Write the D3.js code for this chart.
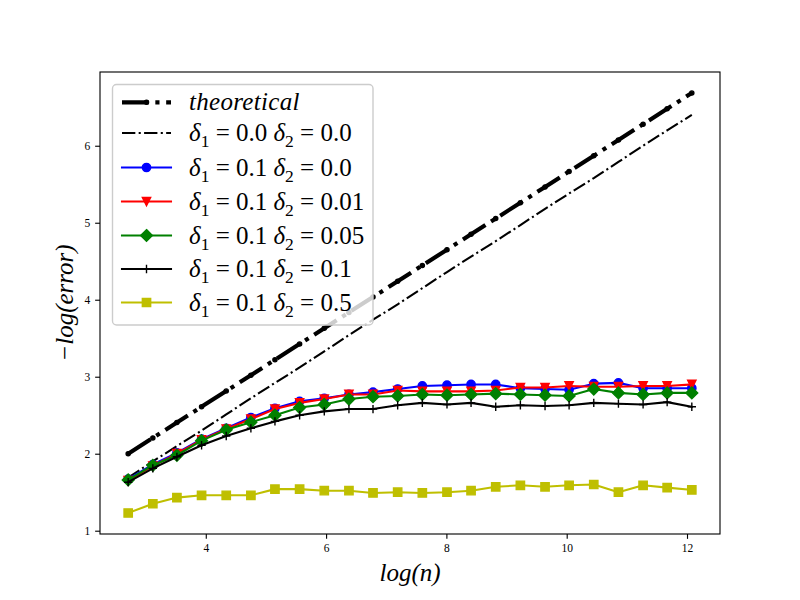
<!DOCTYPE html>
<html>
<head>
<meta charset="utf-8">
<script src="https://cdn.jsdelivr.net/npm/d3@7"></script>
<style>
  html, body { margin: 0; padding: 0; background: #fff; }
  svg { display: block; }
  text { font-family: "Liberation Serif", "DejaVu Serif", serif; }
</style>
</head>
<body>
<svg id="chart" width="800" height="600"></svg>
<script>
// ---------------- data ----------------
const xValues = [2.71, 3.12, 3.52, 3.93, 4.34, 4.75, 5.15, 5.56, 5.97, 6.38, 6.78, 7.19,
                 7.60, 8.01, 8.41, 8.82, 9.23, 9.64, 10.04, 10.45, 10.86, 11.27, 11.67, 12.08];
const theoretical = [2.00, 2.205, 2.405, 2.61, 2.815, 3.02, 3.22, 3.425, 3.63, 3.835, 4.035, 4.24,
                     4.445, 4.65, 4.85, 5.055, 5.26, 5.465, 5.665, 5.87, 6.075, 6.28, 6.48, 6.685];
const d1_00_d2_00 = [1.69, 1.90, 2.10, 2.30, 2.51, 2.72, 2.92, 3.12, 3.33, 3.54, 3.74, 3.94,
                     4.15, 4.36, 4.56, 4.76, 4.97, 5.18, 5.38, 5.58, 5.79, 6.00, 6.20, 6.40];
const d1_01_d2_00 = [1.67, 1.86, 2.01, 2.19, 2.33, 2.47, 2.59, 2.68, 2.72, 2.77, 2.80, 2.84,
                     2.88, 2.89, 2.90, 2.90, 2.85, 2.84, 2.83, 2.91, 2.92, 2.85, 2.85, 2.85];
const d1_01_d2_001 = [1.65, 1.84, 2.00, 2.18, 2.32, 2.45, 2.58, 2.66, 2.71, 2.77, 2.77, 2.82,
                      2.81, 2.81, 2.81, 2.82, 2.86, 2.86, 2.88, 2.87, 2.87, 2.88, 2.88, 2.90];
const d1_01_d2_005 = [1.66, 1.85, 1.98, 2.17, 2.31, 2.41, 2.50, 2.60, 2.64, 2.71, 2.74, 2.75,
                      2.77, 2.76, 2.77, 2.78, 2.77, 2.76, 2.75, 2.84, 2.79, 2.77, 2.79, 2.79];
const d1_01_d2_01 = [1.63, 1.81, 1.96, 2.11, 2.23, 2.33, 2.42, 2.50, 2.55, 2.58, 2.58, 2.63,
                     2.66, 2.64, 2.66, 2.61, 2.63, 2.62, 2.63, 2.66, 2.65, 2.64, 2.67, 2.61];
const d1_01_d2_05 = [1.23, 1.35, 1.43, 1.46, 1.46, 1.46, 1.54, 1.54, 1.52, 1.52, 1.49, 1.50,
                     1.49, 1.50, 1.52, 1.57, 1.59, 1.57, 1.59, 1.60, 1.50, 1.59, 1.56, 1.53];
const xTicks = [4, 6, 8, 10, 12];
const yTicks = [1, 2, 3, 4, 5, 6];
const xLabel = "log(n)";
const yLabel = "\u2212log(error)";

// legend labels: [d1, d2] values (theoretical handled separately)
const seriesLabels = [
  null,
  ["0.0", "0.0"],
  ["0.1", "0.0"],
  ["0.1", "0.01"],
  ["0.1", "0.05"],
  ["0.1", "0.1"],
  ["0.1", "0.5"]
];

// ---------------- styles ----------------
const PT = 100 / 72; // px per point at dpi 100
const series = [
  { values: theoretical, color: "#000000", lw: 3, dash: [6.4, 1.6, 1, 1.6], marker: "point" },
  { values: d1_00_d2_00, color: "#000000", lw: 1.5, dash: [6.4, 1.6, 1, 1.6], marker: null },
  { values: d1_01_d2_00, color: "#0000ff", lw: 1.5, dash: null, marker: "circle" },
  { values: d1_01_d2_001, color: "#ff0000", lw: 1.5, dash: null, marker: "tri_down" },
  { values: d1_01_d2_005, color: "#008000", lw: 1.5, dash: null, marker: "diamond" },
  { values: d1_01_d2_01, color: "#000000", lw: 1.5, dash: null, marker: "plus" },
  { values: d1_01_d2_05, color: "#bfbf00", lw: 1.5, dash: null, marker: "square" }
];

const L = 100, R = 720, T = 72, B = 534;

const svg = d3.select("#chart");

const xExt = d3.extent(xValues);
const allY = series.flatMap(s => s.values);
const yExt = d3.extent(allY);
const xm = (xExt[1] - xExt[0]) * 0.05;
const ym = (yExt[1] - yExt[0]) * 0.05;
const x = d3.scaleLinear().domain([xExt[0] - xm, xExt[1] + xm]).range([L, R]);
const y = d3.scaleLinear().domain([yExt[0] - ym, yExt[1] + ym]).range([B, T]);

// marker paths (matplotlib sizing, markersize 6pt)
const MS = 6 * PT;
function markerPath(type) {
  const h = MS / 2;
  switch (type) {
    case "circle": {
      const p = d3.path(); p.arc(0, 0, h, 0, 2 * Math.PI); p.closePath(); return p.toString();
    }
    case "point": {
      const r = h * 0.5; const p = d3.path(); p.arc(0, 0, r, 0, 2 * Math.PI); p.closePath(); return p.toString();
    }
    case "tri_down":
      return `M0,${h}L${-h},${-h}L${h},${-h}Z`;
    case "diamond": {
      const d = MS / Math.SQRT2;
      return `M0,${-d}L${d},0L0,${d}L${-d},0Z`;
    }
    case "square":
      return `M${-h},${-h}L${h},${-h}L${h},${h}L${-h},${h}Z`;
    case "plus":
      return `M${-h},0L${h},0M0,${-h}L0,${h}`;
  }
  return "";
}

function drawMarker(g, type, color, cx, cy) {
  if (!type) return;
  const path = g.append("path")
    .attr("d", markerPath(type))
    .attr("transform", `translate(${cx},${cy})`)
    .attr("stroke", color)
    .attr("stroke-width", 1 * PT)
    .attr("stroke-linejoin", "miter");
  if (type === "plus") path.attr("fill", "none");
  else path.attr("fill", color);
}

// clip
svg.append("defs").append("clipPath").attr("id", "clip")
  .append("rect").attr("x", L).attr("y", T).attr("width", R - L).attr("height", B - T);

const plot = svg.append("g").attr("clip-path", "url(#clip)");

const line = d3.line().x((d, i) => x(xValues[i])).y(d => y(d));

series.forEach(s => {
  const lw = s.lw * PT;
  const p = plot.append("path")
    .datum(s.values)
    .attr("d", line)
    .attr("fill", "none")
    .attr("stroke", s.color)
    .attr("stroke-width", lw)
    .attr("stroke-linejoin", "round");
  if (s.dash) {
    p.attr("stroke-dasharray", s.dash.map(v => v * s.lw * PT).join(","))
     .attr("stroke-linecap", "butt");
  } else {
    p.attr("stroke-linecap", "square");
  }
  const mg = plot.append("g");
  s.values.forEach((v, i) => drawMarker(mg, s.marker, s.color, x(xValues[i]), y(v)));
});

// axes
const tickLen = 3.5 * PT;
const xAxis = d3.axisBottom(x).tickValues(xTicks).tickSize(tickLen).tickPadding(3.5 * PT).tickFormat(d3.format("d"));
const yAxis = d3.axisLeft(y).tickValues(yTicks).tickSize(tickLen).tickPadding(3.5 * PT).tickFormat(d3.format("d"));

const gx = svg.append("g").attr("transform", `translate(0,${B})`).call(xAxis);
const gy = svg.append("g").attr("transform", `translate(${L},0)`).call(yAxis);
[gx, gy].forEach(g => {
  g.select(".domain").remove();
  g.selectAll(".tick line").attr("stroke", "#000").attr("stroke-width", 0.8 * PT);
  g.selectAll(".tick text").attr("fill", "#000")
    .style("font-family", "'Liberation Serif', serif").style("font-size", "11.5px");
});

svg.append("rect").attr("x", L).attr("y", T).attr("width", R - L).attr("height", B - T)
  .attr("fill", "none").attr("stroke", "#000").attr("stroke-width", 0.8 * PT);

// axis labels
svg.append("text").attr("x", (L + R) / 2).attr("y", 581)
  .attr("text-anchor", "middle").style("font-size", "25px").style("font-style", "italic")
  .text(xLabel);
svg.append("text").attr("transform", `translate(73,${(T + B) / 2}) rotate(-90)`)
  .attr("text-anchor", "middle").style("font-size", "25px").style("font-style", "italic")
  .text(yLabel);

// legend
const lg = svg.append("g");
lg.append("rect").attr("x", 112.5).attr("y", 84.5).attr("width", 260.5).attr("height", 240.5)
  .attr("rx", 4).attr("ry", 4)
  .attr("fill", "#fff").attr("fill-opacity", 0.8)
  .attr("stroke", "#cccccc").attr("stroke-width", 1 * PT);

const rowYs = [102.3, 133, 167.5, 201.5, 235.5, 269, 302.5];
const hx0 = 122, hx1 = 171, tx = 189;
const FS = 25;
series.forEach((s, i) => {
  const cy = rowYs[i];
  const ln = lg.append("line").attr("x1", hx0).attr("x2", hx1).attr("y1", cy).attr("y2", cy)
    .attr("stroke", s.color).attr("stroke-width", s.lw * PT);
  if (s.dash) ln.attr("stroke-dasharray", s.dash.map(v => v * s.lw * PT).join(",")).attr("stroke-linecap", "butt");
  else ln.attr("stroke-linecap", "square");
  drawMarker(lg, s.marker, s.color, (hx0 + hx1) / 2, cy);

  const t = lg.append("text").attr("x", tx).attr("y", cy + 8).style("font-size", FS + "px");
  const lab = seriesLabels[i];
  if (!lab) {
    t.append("tspan").style("font-style", "italic").style("letter-spacing", "0.3px").text("theoretical");
  } else {
    t.append("tspan").style("font-style", "italic").text("\u03b4");
    t.append("tspan").attr("dy", 6).style("font-size", (FS * 0.7) + "px").text("1");
    t.append("tspan").attr("dy", -6).text("\u2005=\u2005" + lab[0] + " ");
    t.append("tspan").style("font-style", "italic").text("\u03b4");
    t.append("tspan").attr("dy", 6).style("font-size", (FS * 0.7) + "px").text("2");
    t.append("tspan").attr("dy", -6).text("\u2005=\u2005" + lab[1]);
  }
});
</script>
</body>
</html>
